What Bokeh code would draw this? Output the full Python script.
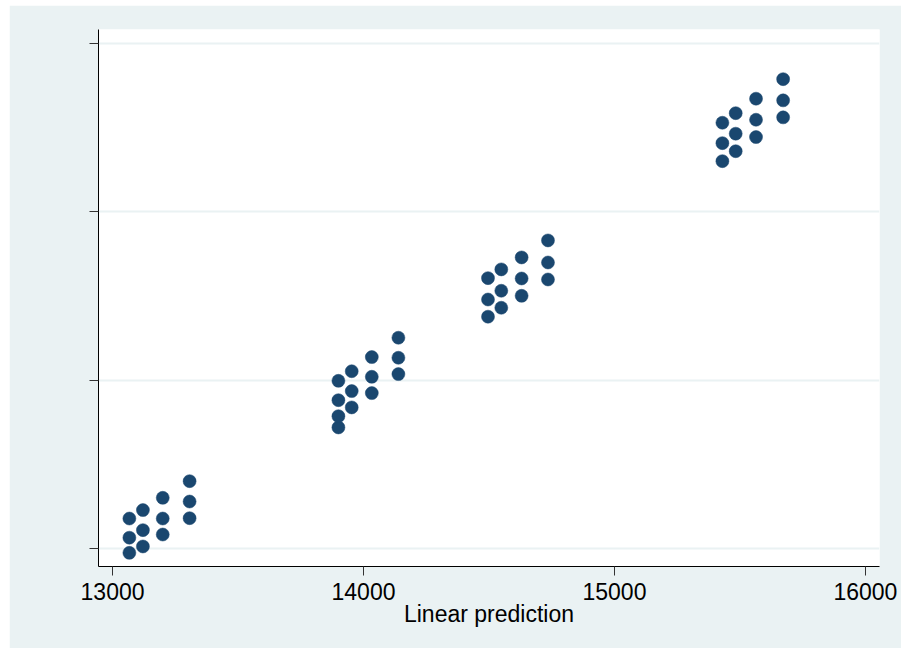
from bokeh.plotting import figure
from bokeh.models import Range1d, FixedTicker, Spacer
from bokeh.layouts import row, column
from bokeh.embed import file_html
from bokeh.resources import INLINE

# Linear prediction (x) and observed outcome (y)
pred = [13067, 13067, 13067, 13121, 13121, 13121, 13200, 13200, 13200, 13307, 13307, 13307,
        13900, 13900, 13900, 13900, 13953, 13953, 13953, 14033, 14033, 14033, 14139, 14139, 14139,
        14496, 14496, 14496, 14549, 14549, 14549, 14630, 14630, 14630, 14735, 14735, 14735,
        15430, 15430, 15430, 15483, 15483, 15483, 15564, 15564, 15564, 15672, 15672, 15672]
obs = [12974, 13064, 13178, 13012, 13109, 13228, 13083, 13178, 13301, 13180, 13279, 13400,
       13719, 13786, 13881, 13996, 13838, 13935, 14053, 13923, 14020, 14137, 14036, 14133, 14252,
       14377, 14479, 14606, 14430, 14531, 14658, 14501, 14604, 14729, 14598, 14699, 14830,
       15301, 15408, 15529, 15360, 15464, 15586, 15444, 15547, 15672, 15561, 15662, 15788]
x_ticks = [13000, 14000, 15000, 16000]
y_ticks = [13000, 14000, 15000, 16000]
x_title = "Linear prediction"

BG = "#EAF2F3"
NAVY = "#1a476f"
FONT = "Liberation Sans"

p = figure(width=892, height=643, output_backend="svg", toolbar_location=None,
           x_range=Range1d(12944, 16056), y_range=Range1d(12893, 16083),
           min_border_left=89, min_border_top=24, min_border_right=22, min_border_bottom=82)
p.frame_width = 781
p.frame_height = 537
p.border_fill_color = BG
p.background_fill_color = "white"
p.outline_line_color = None

p.scatter(pred, obs, size=13, marker="circle", fill_color=NAVY, line_color=NAVY, line_width=0.5)

# grid
p.xgrid.visible = False
p.ygrid.ticker = FixedTicker(ticks=y_ticks)
p.ygrid.grid_line_color = BG
p.ygrid.grid_line_width = 2

# x axis
xa = p.xaxis[0]
xa.ticker = FixedTicker(ticks=x_ticks)
xa.axis_label = x_title
xa.axis_label_text_font = FONT
xa.axis_label_text_font_style = "normal"
xa.axis_label_text_font_size = "23px"
xa.axis_label_text_color = "black"
xa.axis_label_standoff = -2
xa.major_label_text_font = FONT
xa.major_label_text_font_size = "23px"
xa.major_label_text_color = "black"
xa.major_label_standoff = 7
xa.major_tick_out = 9
xa.major_tick_in = 0
xa.minor_tick_out = 0
xa.minor_tick_in = 0
xa.axis_line_color = "black"
xa.major_tick_line_color = "#333333"

# y axis (tick labels fall outside the visible area in the reference)
ya = p.yaxis[0]
ya.ticker = FixedTicker(ticks=y_ticks)
ya.major_label_overrides = {t: "" for t in y_ticks}
ya.major_tick_out = 9
ya.major_tick_in = 0
ya.minor_tick_out = 0
ya.minor_tick_in = 0
ya.axis_line_color = "black"
ya.major_tick_line_color = "#333333"

layout = column(Spacer(width=901, height=5),
                row(Spacer(width=9, height=643), p, spacing=0), spacing=0)

open("out.html", "w").write(file_html(layout, INLINE))
